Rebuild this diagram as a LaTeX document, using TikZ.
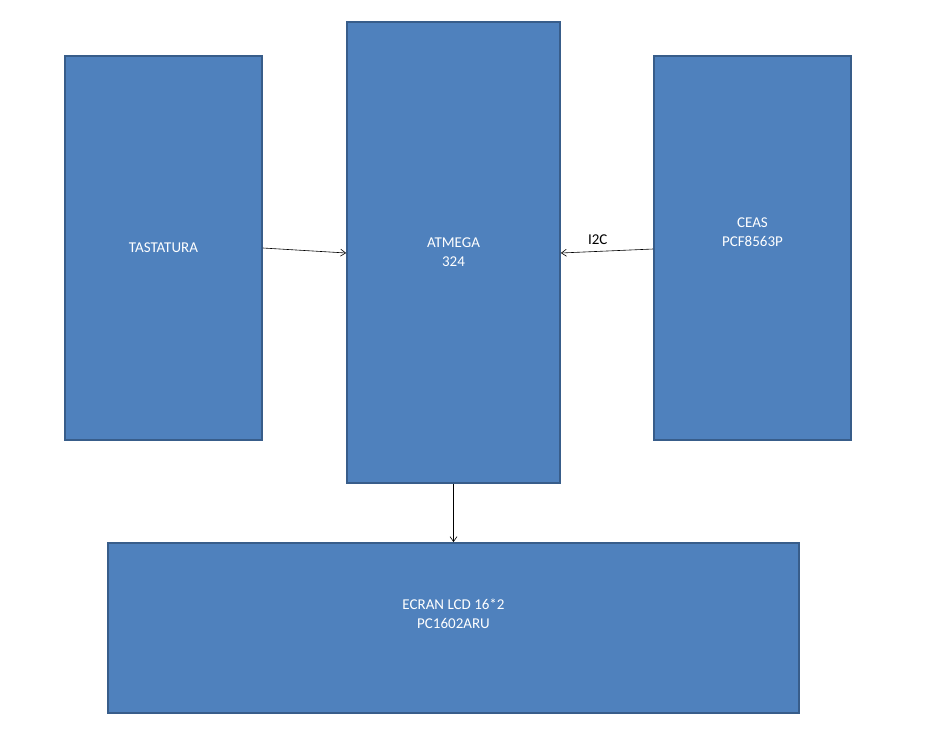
\documentclass[tikz,border=0pt]{standalone}
\usepackage{fontspec}
\setmainfont{Carlito}
\usetikzlibrary{arrows.meta}
\definecolor{boxfill}{HTML}{4F81BD}
\definecolor{boxline}{HTML}{385D8A}
\begin{document}
\begin{tikzpicture}[x=1pt,y=-1pt,
  blk/.style={draw=boxline,line width=1.8pt,fill=boxfill,text=white,font=\fontsize{15}{19}\selectfont,align=center,inner sep=0pt},
  conn/.style={-{Straight Barb[length=5pt,width=7pt]},line width=0.6pt}]
\useasboundingbox (0,0) rectangle (932,729);
\node[blk,minimum width=197pt,minimum height=384pt] (tas) at (163.5,248) {TASTATURA};
\node[blk,minimum width=213pt,minimum height=461pt] (atm) at (453.5,252.5) {ATMEGA\\324};
\node[blk,minimum width=197pt,minimum height=384pt,text depth=32pt] (ceas) at (752.5,248) {CEAS\\PCF8563P};
\node[blk,minimum width=691pt,minimum height=170pt,text depth=28pt] (lcd) at (453.5,628) {ECRAN LCD 16*2\\PC1602ARU};
\draw[conn] (tas.east |- 0,248) -- (atm.west |- 0,253);
\draw[conn] (ceas.west |- 0,249) -- (atm.east |- 0,253) node[pos=0.6,above,font=\fontsize{15}{19}\selectfont,yshift=3pt] (i2c) {I2C};
\draw[conn] (atm.south) -- (lcd.north);
\end{tikzpicture}
\end{document}
